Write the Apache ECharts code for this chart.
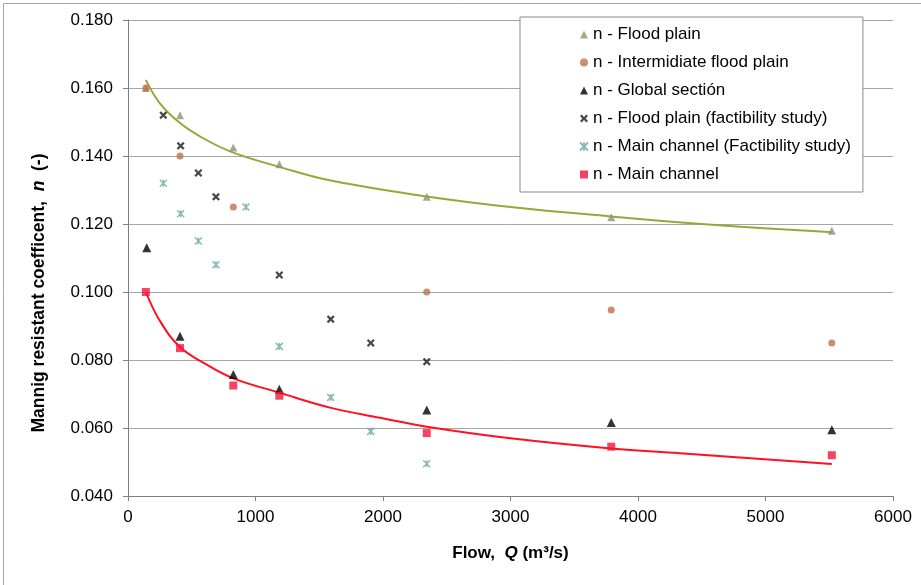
<!DOCTYPE html>
<html>
<head>
<meta charset="utf-8">
<script src="https://cdn.jsdelivr.net/npm/echarts@6/dist/echarts.min.js"></script>
<style>
html,body{margin:0;padding:0;background:#fff;}
#c{width:921px;height:585px;}
</style>
</head>
<body>
<div id="c"></div>
<script>
// ---- Data ----
const xTicks = [0, 1000, 2000, 3000, 4000, 5000, 6000];
const yTicks = [0.04, 0.06, 0.08, 0.10, 0.12, 0.14, 0.16, 0.18];

const seriesNames = [
  'n - Flood plain',
  'n - Intermidiate flood plain',
  'n - Global sectión',
  'n - Flood plain (factibility study)',
  'n - Main channel (Factibility study)',
  'n - Main channel'
];

const floodPlain = [[140,0.160],[408,0.152],[826,0.1425],[1187,0.1376],[2343,0.128],[3790,0.122],[5520,0.118]];
const intermediateFP = [[140,0.160],[408,0.140],[826,0.125],[2343,0.100],[3790,0.0947],[5520,0.085]];
const globalSection = [[147,0.113],[408,0.087],[826,0.0757],[1187,0.0714],[2343,0.0653],[3790,0.0616],[5520,0.0595]];
const floodPlainFS = [[277,0.152],[413,0.143],[552,0.135],[690,0.128],[1187,0.105],[1590,0.092],[1904,0.085],[2343,0.0795]];
const mainChannelFS = [[277,0.132],[413,0.123],[552,0.115],[690,0.108],[925,0.125],[1187,0.084],[1590,0.069],[1904,0.059],[2343,0.0495]];
const mainChannel = [[140,0.100],[408,0.0835],[826,0.0725],[1187,0.0695],[2343,0.0585],[3790,0.0545],[5520,0.052]];

// trend curves
const floodPlainTrend = [[140,0.1624],[250,0.1555],[408,0.1497],[600,0.1450],[826,0.1410],[1187,0.1368],[1600,0.1327],[2343,0.1281],[3000,0.1250],[3790,0.1222],[4500,0.1200],[5520,0.1176]];
const mainChannelTrend = [[140,0.1000],[250,0.0915],[408,0.0838],[600,0.0790],[826,0.0746],[1187,0.0704],[1584,0.0660],[1976,0.0630],[2343,0.0604],[3000,0.0570],[3790,0.0540],[4329,0.0526],[5520,0.0494]];

const FONT = '"Liberation Sans", Arial, sans-serif';
const X_PATH = 'path://M2,0 L5,3 L8,0 L10,2 L7,5 L10,8 L8,10 L5,7 L2,10 L0,8 L3,5 L0,2 Z';
const STAR_PATH = 'path://M0,0L10,10M10,0L0,10M5,0L5,10';

const chart = echarts.init(document.getElementById('c'), null, {renderer: 'canvas'});

const option = {
  backgroundColor: '#ffffff',
  animation: false,
  textStyle: {fontFamily: FONT},
  graphic: [{
    type: 'rect', left: 1, top: 1, silent: true,
    shape: {width: 918, height: 582},
    style: {fill: 'none', stroke: '#a8a8a8', lineWidth: 1}
  }],
  grid: {left: 128, right: 28, top: 20, bottom: 89, containLabel: false},
  legend: {
    orient: 'vertical',
    left: 520, top: 17,
    data: seriesNames,
    backgroundColor: '#ffffff',
    borderColor: '#8c8c8c', borderWidth: 1, borderRadius: 0,
    padding: [9, 12, 9, 59],
    itemWidth: 8, itemHeight: 8, itemGap: 11,
    textStyle: {fontFamily: FONT, fontSize: 17, color: '#000', lineHeight: 17}
  },
  xAxis: {
    type: 'value', min: 0, max: 6000, interval: 1000,
    name: '{a|Flow,  }{i|Q}{a| (m³/s)}',
    nameLocation: 'middle', nameGap: 49,
    nameTextStyle: {
      rich: {
        a: {fontFamily: FONT, fontSize: 17, fontWeight: 'bold', color: '#000'},
        i: {fontFamily: FONT, fontSize: 17, fontWeight: 'bold', fontStyle: 'italic', color: '#000'}
      }
    },
    axisLine: {show: true, lineStyle: {color: '#808080', width: 1}},
    axisTick: {show: true, inside: false, length: 5, lineStyle: {color: '#808080'}},
    axisLabel: {fontFamily: FONT, fontSize: 17, color: '#000', margin: 13,
      formatter: v => String(Math.round(v))},
    splitLine: {show: false}
  },
  yAxis: {
    type: 'value', min: 0.04, max: 0.18, interval: 0.02,
    name: '{a|Mannig resistant coefficent,  }{i|n}{a|  (-)}',
    nameLocation: 'middle', nameGap: 80,
    nameTextStyle: {
      padding: [0, 70, 0, 0],
      rich: {
        a: {fontFamily: FONT, fontSize: 17.5, fontWeight: 'bold', color: '#000'},
        i: {fontFamily: FONT, fontSize: 17.5, fontWeight: 'bold', fontStyle: 'italic', color: '#000'}
      }
    },
    axisLine: {show: true, lineStyle: {color: '#808080', width: 1}},
    axisTick: {show: true, inside: false, length: 5, lineStyle: {color: '#808080'}},
    axisLabel: {fontFamily: FONT, fontSize: 17, color: '#000', margin: 15,
      formatter: v => v.toFixed(3)},
    splitLine: {show: true, lineStyle: {color: '#a6a6a6', width: 1}}
  },
  series: [
    {
      name: 'trendFP', type: 'line', data: floodPlainTrend, smooth: 0.4,
      showSymbol: false, symbol: 'none', silent: true, z: 1,
      lineStyle: {color: '#9aa53a', width: 2}
    },
    {
      name: 'trendMC', type: 'line', data: mainChannelTrend, smooth: 0.4,
      showSymbol: false, symbol: 'none', silent: true, z: 1,
      lineStyle: {color: '#ff1020', width: 2}
    },
    {
      name: seriesNames[0], type: 'scatter', data: floodPlain,
      symbol: 'triangle', symbolSize: 8, z: 3,
      itemStyle: {color: '#8c9570'}
    },
    {
      name: seriesNames[1], type: 'scatter', data: intermediateFP,
      symbol: 'circle', symbolSize: 7, z: 3,
      itemStyle: {color: '#c0704c'}
    },
    {
      name: seriesNames[2], type: 'scatter', data: globalSection,
      symbol: 'triangle', symbolSize: 9, z: 4,
      itemStyle: {color: '#000000'}
    },
    {
      name: seriesNames[3], type: 'scatter', data: floodPlainFS,
      symbol: X_PATH, symbolSize: 8, z: 3,
      itemStyle: {color: '#1a1a1a'}
    },
    {
      name: seriesNames[4], type: 'scatter', data: mainChannelFS,
      symbol: STAR_PATH, symbolSize: 7, z: 3,
      itemStyle: {color: 'rgba(0,0,0,0)', borderColor: '#6aa6a6', borderWidth: 1.5}
    },
    {
      name: seriesNames[5], type: 'scatter', data: mainChannel,
      symbol: 'rect', symbolSize: 8, z: 5,
      itemStyle: {color: '#f5143c'}
    }
  ]
};
chart.setOption(option);
</script>
</body>
</html>
